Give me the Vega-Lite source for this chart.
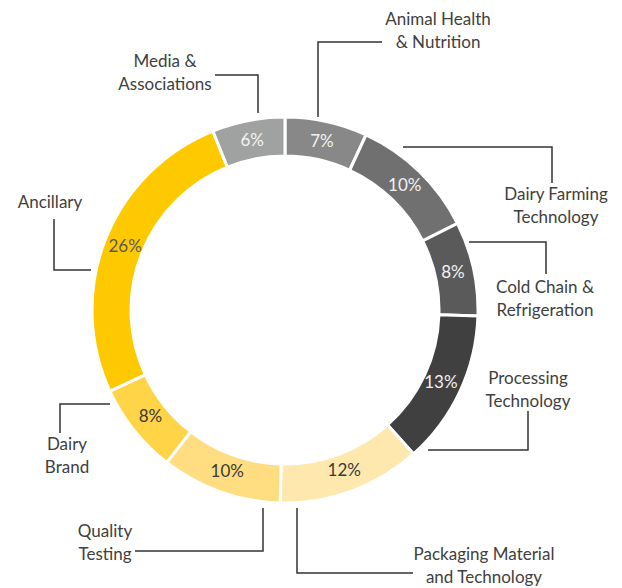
{
  "$schema": "https://vega.github.io/schema/vega-lite/v6.json",
  "width": 570,
  "height": 556,
  "autosize": {"type": "none"},
  "padding": {"left": 0, "top": 32, "right": 52, "bottom": 0},
  "background": "white",
  "config": {"view": {"stroke": null}},
  "datasets": {
    "segments": [
      {"idx": 1, "name": "Animal Health & Nutrition", "value": 6.9, "pct": "7%"},
      {"idx": 2, "name": "Dairy Farming Technology", "value": 10.7, "pct": "10%"},
      {"idx": 3, "name": "Cold Chain & Refrigeration", "value": 7.9, "pct": "8%"},
      {"idx": 4, "name": "Processing Technology", "value": 12.9, "pct": "13%"},
      {"idx": 5, "name": "Packaging Material and Technology", "value": 12.0, "pct": "12%"},
      {"idx": 6, "name": "Quality Testing", "value": 10.1, "pct": "10%"},
      {"idx": 7, "name": "Dairy Brand", "value": 7.6, "pct": "8%"},
      {"idx": 8, "name": "Ancillary", "value": 25.8, "pct": "26%"},
      {"idx": 9, "name": "Media & Associations", "value": 6.1, "pct": "6%"}
    ],
    "leaders": [
      {"name": "Media & Associations", "step": 1, "x": -70, "y": 235},
      {"name": "Media & Associations", "step": 2, "x": -27, "y": 235},
      {"name": "Media & Associations", "step": 3, "x": -27, "y": 197},
      {"name": "Animal Health & Nutrition", "step": 1, "x": 33, "y": 193},
      {"name": "Animal Health & Nutrition", "step": 2, "x": 33, "y": 268},
      {"name": "Animal Health & Nutrition", "step": 3, "x": 97, "y": 268},
      {"name": "Dairy Farming Technology", "step": 1, "x": 118, "y": 163},
      {"name": "Dairy Farming Technology", "step": 2, "x": 267, "y": 163},
      {"name": "Dairy Farming Technology", "step": 3, "x": 267, "y": 127},
      {"name": "Cold Chain & Refrigeration", "step": 1, "x": 184, "y": 68},
      {"name": "Cold Chain & Refrigeration", "step": 2, "x": 261, "y": 68},
      {"name": "Cold Chain & Refrigeration", "step": 3, "x": 261, "y": 36},
      {"name": "Processing Technology", "step": 1, "x": 143, "y": -140},
      {"name": "Processing Technology", "step": 2, "x": 243, "y": -140},
      {"name": "Processing Technology", "step": 3, "x": 243, "y": -101},
      {"name": "Packaging Material and Technology", "step": 1, "x": 12, "y": -198},
      {"name": "Packaging Material and Technology", "step": 2, "x": 12, "y": -263},
      {"name": "Packaging Material and Technology", "step": 3, "x": 128, "y": -263},
      {"name": "Quality Testing", "step": 1, "x": -22, "y": -198},
      {"name": "Quality Testing", "step": 2, "x": -22, "y": -241},
      {"name": "Quality Testing", "step": 3, "x": -150, "y": -241},
      {"name": "Dairy Brand", "step": 1, "x": -175, "y": -94},
      {"name": "Dairy Brand", "step": 2, "x": -225, "y": -94},
      {"name": "Dairy Brand", "step": 3, "x": -225, "y": -123},
      {"name": "Ancillary", "step": 1, "x": -194, "y": 40},
      {"name": "Ancillary", "step": 2, "x": -231, "y": 40},
      {"name": "Ancillary", "step": 3, "x": -231, "y": 91}
    ],
    "labels": [
      {"label": "Media &\nAssociations", "x": -120, "y": 248},
      {"label": "Animal Health\n& Nutrition", "x": 153, "y": 290},
      {"label": "Dairy Farming\nTechnology", "x": 271, "y": 115},
      {"label": "Cold Chain &\nRefrigeration", "x": 260, "y": 22},
      {"label": "Processing\nTechnology", "x": 243, "y": -69},
      {"label": "Packaging Material\nand Technology", "x": 199, "y": -245},
      {"label": "Quality\nTesting", "x": -180, "y": -222},
      {"label": "Dairy\nBrand", "x": -218, "y": -135},
      {"label": "Ancillary", "x": -235, "y": 107}
    ]
  },
  "layer": [
    {
      "data": {"name": "segments"},
      "mark": {"type": "arc", "outerRadius": 193, "innerRadius": 154, "stroke": "white", "strokeWidth": 3},
      "encoding": {
        "theta": {"field": "value", "type": "quantitative", "stack": true},
        "order": {"field": "idx", "type": "quantitative"},
        "color": {
          "field": "name",
          "type": "nominal",
          "scale": {
            "domain": ["Animal Health & Nutrition", "Dairy Farming Technology", "Cold Chain & Refrigeration", "Processing Technology", "Packaging Material and Technology", "Quality Testing", "Dairy Brand", "Ancillary", "Media & Associations"],
            "range": ["#888888", "#707070", "#5a5a5a", "#404040", "#ffe8ad", "#ffdd80", "#ffd447", "#ffc900", "#a0a2a1"]
          },
          "legend": null
        }
      }
    },
    {
      "data": {"name": "segments"},
      "mark": {"type": "text", "radius": 172, "font": "Lato", "fontSize": 17, "align": "center", "baseline": "middle"},
      "encoding": {
        "theta": {"field": "value", "type": "quantitative", "stack": true},
        "order": {"field": "idx", "type": "quantitative"},
        "text": {"field": "pct", "type": "nominal"},
        "color": {
          "condition": [
            {"test": "indexof(['Animal Health & Nutrition','Dairy Farming Technology','Cold Chain & Refrigeration','Processing Technology','Media & Associations'], datum.name) >= 0", "value": "#f2f2f2"},
            {"test": "datum.name == 'Ancillary'", "value": "#5a5a5a"}
          ],
          "value": "#3a3a3a"
        }
      }
    },
    {
      "data": {"name": "leaders"},
      "mark": {"type": "line", "color": "#333333", "strokeWidth": 1.5},
      "encoding": {
        "x": {"field": "x", "type": "quantitative", "scale": {"domain": [-285, 285], "nice": false, "zero": false}, "axis": null},
        "y": {"field": "y", "type": "quantitative", "scale": {"domain": [-278, 278], "nice": false, "zero": false}, "axis": null},
        "detail": {"field": "name", "type": "nominal"},
        "order": {"field": "step", "type": "quantitative"}
      }
    },
    {
      "data": {"name": "labels"},
      "mark": {"type": "text", "font": "Lato", "fontSize": 17, "color": "#404040", "lineBreak": "\n", "lineHeight": 23, "align": "center", "baseline": "middle"},
      "encoding": {
        "x": {"field": "x", "type": "quantitative", "scale": {"domain": [-285, 285], "nice": false, "zero": false}, "axis": null},
        "y": {"field": "y", "type": "quantitative", "scale": {"domain": [-278, 278], "nice": false, "zero": false}, "axis": null},
        "text": {"field": "label", "type": "nominal"}
      }
    }
  ]
}
